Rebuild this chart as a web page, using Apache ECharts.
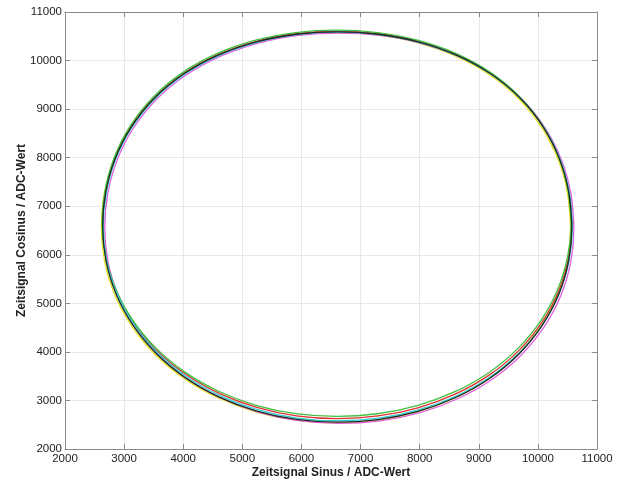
<!DOCTYPE html>
<html>
<head>
<meta charset="utf-8">
<script src="https://cdn.jsdelivr.net/npm/echarts@6/dist/echarts.min.js"></script>
<style>
  html, body { margin: 0; padding: 0; background: #fff; }
  #chart { width: 622px; height: 480px; }
</style>
</head>
<body>
<div id="chart"></div>
<script>
// Sine vs. cosine ADC signals, one closed loop per recorded run
const xTicks = [2000, 3000, 4000, 5000, 6000, 7000, 8000, 9000, 10000, 11000];
const yTicks = [2000, 3000, 4000, 5000, 6000, 7000, 8000, 9000, 10000, 11000];

const traceYellow = [
  [10552,6557],[10503,7258],[10348,7944],[10077,8600],[9688,9197],[9190,9702],[8601,10096],[7953,10370],[7276,10527],
  [6584,10577],[5892,10527],[5215,10370],[4567,10096],[3978,9702],[3480,9197],[3091,8600],[2820,7944],[2665,7258],
  [2616,6557],[2672,5857],[2842,5177],[3127,4535],[3521,3952],[4013,3454],[4588,3055],[5223,2766],[5893,2593],
  [6584,2537],[7275,2591],[7948,2759],[8586,3045],[9165,3442],[9658,3942],[10051,4529],[10333,5175],[10498,5857]
];
const traceMagenta = [
  [10609,6547],[10560,7248],[10405,7934],[10134,8590],[9745,9187],[9247,9692],[8658,10086],[8010,10360],[7333,10517],
  [6641,10567],[5949,10517],[5272,10360],[4624,10086],[4035,9692],[3537,9187],[3148,8590],[2877,7934],[2722,7248],
  [2673,6547],[2729,5847],[2899,5167],[3184,4525],[3578,3942],[4070,3444],[4645,3045],[5280,2756],[5950,2583],
  [6641,2527],[7332,2581],[8005,2749],[8643,3035],[9222,3432],[9715,3932],[10108,4519],[10390,5165],[10555,5847]
];
const traceRed = [
  [10574,6612],[10525,7283],[10370,7969],[10099,8625],[9710,9222],[9212,9727],[8623,10121],[7975,10395],[7298,10552],
  [6606,10602],[5914,10552],[5237,10395],[4589,10121],[4000,9727],[3502,9222],[3113,8625],[2842,7969],[2687,7283],
  [2638,6612],[2694,5947],[2864,5267],[3149,4625],[3543,4042],[4035,3544],[4610,3145],[5245,2856],[5915,2683],
  [6606,2627],[7297,2681],[7970,2849],[8608,3135],[9187,3532],[9680,4032],[10073,4619],[10355,5265],[10520,5947]
];
const traceGreen = [
  [10562,6647],[10513,7308],[10358,7994],[10087,8650],[9698,9247],[9200,9752],[8611,10146],[7963,10420],[7286,10577],
  [6594,10627],[5902,10577],[5225,10420],[4577,10146],[3988,9752],[3490,9247],[3101,8650],[2830,7994],[2675,7308],
  [2626,6647],[2682,5992],[2852,5312],[3137,4670],[3531,4087],[4023,3589],[4598,3190],[5233,2901],[5903,2728],
  [6594,2672],[7285,2726],[7958,2894],[8596,3180],[9175,3577],[9668,4077],[10061,4664],[10343,5310],[10508,5992]
];
const traceCyan = [
  [10584,6582],[10535,7265],[10380,7951],[10109,8607],[9720,9204],[9222,9709],[8633,10103],[7985,10377],[7308,10534],
  [6616,10584],[5924,10534],[5247,10377],[4599,10103],[4010,9709],[3512,9204],[3123,8607],[2852,7951],[2697,7265],
  [2648,6582],[2704,5902],[2874,5222],[3159,4580],[3553,3997],[4045,3499],[4620,3100],[5255,2811],[5925,2638],
  [6616,2582],[7307,2636],[7980,2804],[8618,3090],[9197,3487],[9690,3987],[10083,4574],[10365,5220],[10530,5902]
];
const traceBlack = [
  [10574,6572],[10525,7273],[10370,7959],[10099,8615],[9710,9212],[9212,9717],[8623,10111],[7975,10385],[7298,10542],
  [6606,10592],[5914,10542],[5237,10385],[4589,10111],[4000,9717],[3502,9212],[3113,8615],[2842,7959],[2687,7273],
  [2638,6572],[2694,5872],[2864,5192],[3149,4550],[3543,3967],[4035,3469],[4610,3070],[5245,2781],[5915,2608],
  [6606,2552],[7297,2606],[7970,2774],[8608,3060],[9187,3457],[9680,3957],[10073,4544],[10355,5190],[10520,5872]
];

const traces = [
  { data: traceYellow,  color: '#e4e020' },
  { data: traceMagenta, color: '#e060e0' },
  { data: traceRed,     color: '#e03030' },
  { data: traceGreen,   color: '#40c040' },
  { data: traceCyan,    color: '#30cdd4' },
  { data: traceBlack,   color: '#1e2b24' }
];

// close each loop by running over the first two samples again
function closed(pts) {
  return pts.concat([pts[0], pts[1]]);
}

const labelFont = { fontFamily: 'Liberation Sans, Arial, sans-serif', fontSize: 11.5, color: '#222' };
const nameFont = { fontFamily: 'Liberation Sans, Arial, sans-serif', fontSize: 12, fontWeight: 'bold', color: '#222' };

const xMin = xTicks[0], xMax = xTicks[xTicks.length - 1];
const yMin = yTicks[0], yMax = yTicks[yTicks.length - 1];
const tickStep = xTicks[1] - xTicks[0];

function frameAxis(pos, min, max) {
  return {
    type: 'value', position: pos, min: min, max: max, interval: tickStep,
    axisLine: { show: true, lineStyle: { color: '#8a8a8a', width: 1 } },
    axisTick: { show: true, inside: true, length: 5, lineStyle: { color: '#8a8a8a' } },
    axisLabel: { show: false },
    splitLine: { show: false }
  };
}

const plain = v => String(v);

const chart = echarts.init(document.getElementById('chart'), null, { renderer: 'canvas' });
chart.setOption({
  animation: false,
  backgroundColor: '#fff',
  grid: { left: 65, right: 25, top: 12, bottom: 31, show: false, containLabel: false, outerBoundsMode: 'none' },
  xAxis: [
    {
      type: 'value', position: 'bottom', min: xMin, max: xMax, interval: tickStep,
      name: 'Zeitsignal Sinus / ADC-Wert', nameLocation: 'middle', nameGap: 18, nameMoveOverlap: false,
      nameTextStyle: nameFont,
      axisLine: { show: true, lineStyle: { color: '#8a8a8a', width: 1 } },
      axisTick: { show: true, inside: true, length: 5, lineStyle: { color: '#8a8a8a' } },
      axisLabel: Object.assign({ margin: 4, formatter: plain }, labelFont),
      splitLine: { show: true, lineStyle: { color: '#e8e8e8', width: 1 } }
    },
    frameAxis('top', xMin, xMax)
  ],
  yAxis: [
    {
      type: 'value', position: 'left', min: yMin, max: yMax, interval: tickStep,
      name: 'Zeitsignal Cosinus / ADC-Wert', nameLocation: 'middle', nameGap: 37, nameMoveOverlap: false,
      nameTextStyle: nameFont,
      axisLine: { show: true, lineStyle: { color: '#8a8a8a', width: 1 } },
      axisTick: { show: true, inside: true, length: 5, lineStyle: { color: '#8a8a8a' } },
      axisLabel: Object.assign({ margin: 3, formatter: plain }, labelFont),
      splitLine: { show: true, lineStyle: { color: '#e8e8e8', width: 1 } }
    },
    frameAxis('right', yMin, yMax)
  ],
  series: traces.map(t => ({
    type: 'line',
    xAxisIndex: 0, yAxisIndex: 0,
    data: closed(t.data),
    smooth: 0.33,
    showSymbol: false,
    symbol: 'none',
    lineStyle: { color: t.color, width: 1.3 },
    silent: true
  }))
});
</script>
</body>
</html>
